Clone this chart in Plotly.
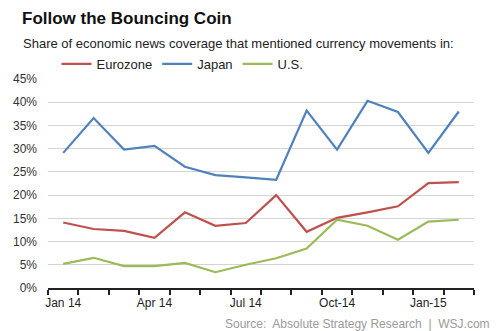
import plotly.graph_objects as go

months = ["Jan 14", "Feb 14", "Mar 14", "Apr 14", "May 14", "Jun 14", "Jul 14",
          "Aug 14", "Sep 14", "Oct-14", "Nov 14", "Dec 14", "Jan-15", "Feb 15"]
tick_labels = ["Jan 14", "", "", "Apr 14", "", "", "Jul 14", "", "", "Oct-14", "", "", "Jan-15", ""]

eurozone = [14.1, 12.7, 12.3, 10.8, 16.3, 13.4, 14.0, 20.0, 12.1, 15.1, 16.3, 17.6, 22.6, 22.8]
japan = [29.1, 36.6, 29.8, 30.6, 26.1, 24.3, 23.8, 23.3, 38.2, 29.8, 40.3, 37.9, 29.1, 38.0]
us = [5.2, 6.5, 4.7, 4.7, 5.4, 3.4, 5.0, 6.4, 8.5, 14.7, 13.4, 10.4, 14.3, 14.7]

series = [("Eurozone", eurozone, "#c0504d"), ("Japan", japan, "#4f81bd"), ("U.S.", us, "#9bbb59")]

FONT = "Liberation Sans, Arial, sans-serif"

xpos = list(range(len(months)))
boundaries = [i - 0.5 for i in range(len(months) + 1)]
xrange = [-0.5, len(months) - 0.5]

fig = go.Figure()
for name, vals, color in series:
    fig.add_trace(go.Scatter(x=xpos, y=vals, name=name, mode="lines",
                             customdata=months, hovertemplate="%{customdata}: %{y}%",
                             line=dict(color=color, width=2.2)))

fig.update_layout(
    width=500, height=331,
    margin=dict(l=48, r=26, t=79, b=43),
    paper_bgcolor="white", plot_bgcolor="white",
    font=dict(family=FONT, color="#333333", size=12),
    showlegend=True,
    legend=dict(orientation="h", x=0.02, y=1.0, xanchor="left", yanchor="bottom",
                font=dict(size=13, color="#222222"), bgcolor="rgba(0,0,0,0)",
                itemwidth=30, tracegroupgap=0),
    # axis carrying the line and the boundary tick marks
    xaxis=dict(tickmode="array", tickvals=boundaries, ticktext=[""] * len(boundaries),
               ticks="outside", ticklen=5, tickwidth=1.5, tickcolor="#222222",
               showline=True, linecolor="#222222", linewidth=1.6,
               showgrid=False, zeroline=False, range=xrange),
    # overlay axis carrying the month labels at category centres
    xaxis2=dict(overlaying="x", side="bottom", anchor="y", range=xrange,
                tickmode="array", tickvals=xpos, ticktext=tick_labels, tickangle=0,
                ticks="", showline=False, showgrid=False, zeroline=False,
                ticklabelstandoff=6,
                tickfont=dict(size=12, color="#222222")),
    yaxis=dict(range=[0, 45], tickvals=[0, 5, 10, 15, 20, 25, 30, 35, 40, 45],
               ticktext=["0%", "5%", "10%", "15%", "20%", "25%", "30%", "35%", "40%", "45%"],
               showgrid=True, gridcolor="#d4d4d4", gridwidth=1.3, zeroline=False,
               showline=False, ticks="", ticklabelstandoff=10,
               tickfont=dict(size=12, color="#333333")),
    annotations=[
        dict(text="<b>Follow the Bouncing Coin</b>", xref="paper", yref="paper",
             x=-0.066, y=1.0, xanchor="left", yanchor="bottom", yshift=49,
             showarrow=False, font=dict(size=17, color="#111111")),
        dict(text="Share of economic news coverage that mentioned currency movements in:",
             xref="paper", yref="paper", x=-0.064, y=1.0, xanchor="left", yanchor="bottom",
             yshift=26, showarrow=False, font=dict(size=13, color="#222222")),
        dict(text="Source:  Absolute Strategy Research  |  WSJ.com", xref="paper", yref="paper",
             x=1.043, y=0, xanchor="right", yanchor="top", yshift=-27,
             showarrow=False, font=dict(size=12, color="#9a9a9a")),
    ],
)
# invisible helper trace so the label axis is drawn
fig.add_trace(go.Scatter(x=[xpos[0]], y=[None], xaxis="x2", showlegend=False,
                         hoverinfo="skip", mode="lines"))

fig.write_html("out.html")
